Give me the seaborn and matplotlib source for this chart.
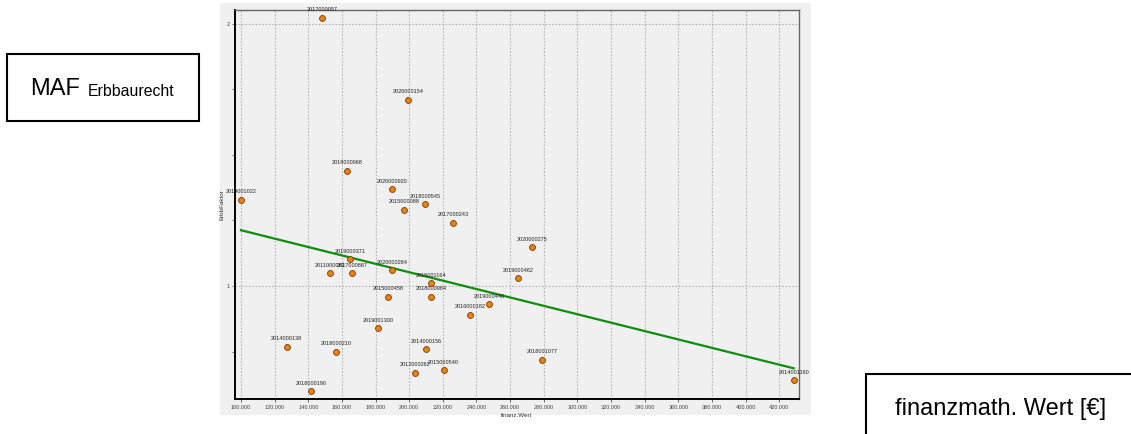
import matplotlib
matplotlib.use("Agg")
import matplotlib.pyplot as plt
from matplotlib.patches import Rectangle
from matplotlib.ticker import FixedLocator, FuncFormatter
import seaborn as sns
import pandas as pd

# ---------------- data ----------------
ids = ["2017000057", "2020000154", "2018000968", "2019001022", "2020000920",
       "2018000545", "2015000088", "2017000243", "2020000275", "2019000462",
       "2018001077", "2014001160", "2019000371", "2011000082", "2017000867",
       "2020000284", "2015001164", "2015000458", "2018000984", "2019000446",
       "2016000182", "2019001300", "2014000138", "2018000210", "2014000156",
       "2012000262", "2015000540", "2018000190"]
finanz_wert = [148300, 199100, 163200, 100000, 189800,
               209600, 197100, 226200, 273200, 264900,
               279000, 428600, 164800, 152900, 166200,
               189600, 212800, 187600, 213000, 247600,
               236150, 181650, 127150, 156300, 210000,
               203250, 220500, 141450]
erbb_faktor = [2.024, 1.711, 1.440, 1.329, 1.370,
               1.312, 1.291, 1.242, 1.149, 1.029,
               0.719, 0.640, 1.102, 1.050, 1.050,
               1.061, 1.010, 0.959, 0.959, 0.931,
               0.890, 0.839, 0.768, 0.749, 0.758,
               0.669, 0.679, 0.598]
x_ticks = list(range(100000, 440000, 20000))
y_major = [1, 2]
y_minor = [0.75, 1.25, 1.5, 1.75]

df = pd.DataFrame({"id": ids, "finanz.Wert": finanz_wert, "ErbbFaktor": erbb_faktor})

# ---------------- figure ----------------
W, H = 1131, 434
font = ["Liberation Sans", "DejaVu Sans"]
plt.rcParams["font.family"] = font
fig = plt.figure(figsize=(W / 100, H / 100), dpi=100)
fig.patch.set_facecolor("white")

panel = Rectangle((220 / W, 1 - 415 / H), 591 / W, 412 / H, transform=fig.transFigure,
                  facecolor="#f0f0f0", edgecolor="none", zorder=-10)
fig.patches.append(panel)

ax = fig.add_axes([235 / W, 1 - 399 / H, 564 / W, 389 / H])
ax.set_zorder(1)
ax.set_facecolor("#f0f0f0")

sns.regplot(data=df, x="finanz.Wert", y="ErbbFaktor", ax=ax, ci=None, truncate=True,
            scatter=False, line_kws=dict(color="#0a8f0a", lw=1.6, zorder=3))

for lab, xv, yv in zip(ids, finanz_wert, erbb_faktor):
    ax.annotate(lab, xy=(xv, yv), xytext=(0, 4.6), textcoords="offset points",
                ha="center", va="baseline", fontsize=4, color="#222222",
                annotation_clip=False,
                arrowprops=dict(arrowstyle="-", color="black", lw=0.7,
                                shrinkA=0.3, shrinkB=0), zorder=4)

sns.scatterplot(data=df, x="finanz.Wert", y="ErbbFaktor", ax=ax, s=18,
                color="#ee8010", edgecolor="#7a3a00", linewidth=0.6, zorder=5,
                clip_on=False)

ax.set_xlim(96430, 431750)
ax.set_ylim(0.569, 2.053)

ax.xaxis.set_major_locator(FixedLocator(x_ticks))
ax.xaxis.set_major_formatter(FuncFormatter(lambda v, p: f"{v:,.0f}".replace(",", ".")))
ax.yaxis.set_major_locator(FixedLocator(y_major))
ax.yaxis.set_minor_locator(FixedLocator(y_minor))
ax.yaxis.set_major_formatter(FuncFormatter(lambda v, p: f"{v:g}"))

ax.tick_params(axis="both", which="both", labelsize=4, labelcolor="#444444",
               length=2.5, width=0.6, color="#555555", pad=1.5)
ax.grid(True, which="major", axis="both", color="#b5b5b5", linestyle=(0, (1.5, 1.5)), lw=0.8)
ax.set_axisbelow(True)

ax.set_xlabel("finanz.Wert", fontsize=4.5, color="#333333", labelpad=0.5)
ax.set_ylabel("ErbbFaktor", fontsize=4.5, color="#333333", labelpad=1)
ax.xaxis.set_label_coords(0.5, -0.035)

for side in ["left", "bottom"]:
    ax.spines[side].set_color("black")
    ax.spines[side].set_linewidth(1.4)
for side in ["top", "right"]:
    ax.spines[side].set_color("#666666")
    ax.spines[side].set_linewidth(1.0)

# ---------------- annotation boxes ----------------
box1 = Rectangle((7 / W, 1 - 121 / H), 192 / W, 67 / H, transform=fig.transFigure,
                 fill=False, edgecolor="black", lw=1.5)
fig.patches.append(box1)
fig.text(30 / W, 1 - 95 / H, "MAF", fontsize=17, va="baseline", ha="left")
fig.text(88 / W, 1 - 96 / H, "Erbbaurecht", fontsize=11.4, va="baseline", ha="left")

box2 = Rectangle((866 / W, 1 - 450 / H), 300 / W, 76 / H, transform=fig.transFigure,
                 fill=False, edgecolor="black", lw=1.5, clip_on=False)
fig.patches.append(box2)
fig.text(895 / W, 1 - 415 / H, "finanzmath. Wert [€]", fontsize=17, va="baseline", ha="left")

fig.savefig("out.png", dpi=100)
